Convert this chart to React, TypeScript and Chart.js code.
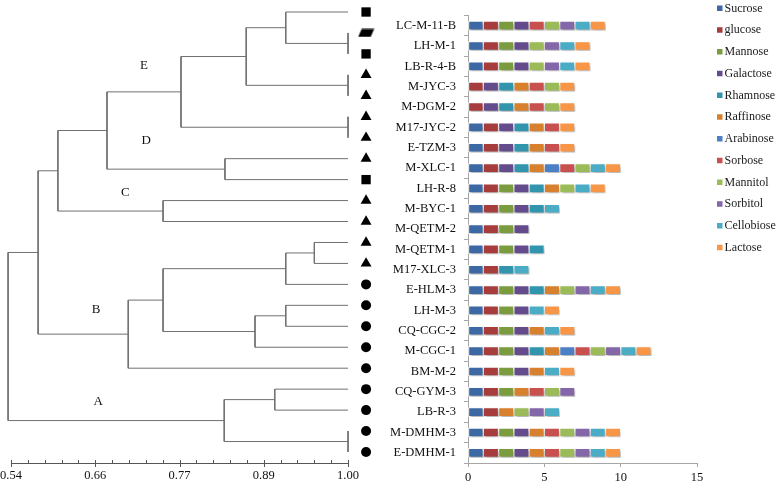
import React, { useEffect, useRef } from "react";
import { Chart, registerables } from "chart.js";

Chart.register(...registerables);

// ---------------- data ----------------
const strains = [
  "LC-M-11-B", "LH-M-1", "LB-R-4-B", "M-JYC-3", "M-DGM-2", "M17-JYC-2", "E-TZM-3",
  "M-XLC-1", "LH-R-8", "M-BYC-1", "M-QETM-2", "M-QETM-1", "M17-XLC-3", "E-HLM-3",
  "LH-M-3", "CQ-CGC-2", "M-CGC-1", "BM-M-2", "CQ-GYM-3", "LB-R-3", "M-DMHM-3", "E-DMHM-1",
];

const sugarNames = [
  "Sucrose", "glucose", "Mannose", "Galactose", "Rhamnose", "Raffinose",
  "Arabinose", "Sorbose", "Mannitol", "Sorbitol", "Cellobiose", "Lactose",
];

// 1 = strain utilises the sugar (one bar segment), 0 = not
const sucrose    = [1,1,1,0,0,1,1,1,1,1,1,1,1,1,1,1,1,1,1,1,1,1];
const glucose    = [1,1,1,1,1,1,1,1,1,1,1,1,1,1,1,1,1,1,1,1,1,1];
const mannose    = [1,1,1,0,0,0,0,0,1,1,1,1,0,1,1,1,1,1,1,0,1,1];
const galactose  = [1,1,1,1,1,1,1,1,1,1,1,1,0,1,1,1,1,1,0,0,1,1];
const rhamnose   = [0,0,0,1,1,1,1,1,1,1,0,1,1,1,0,0,1,0,0,0,0,0];
const raffinose  = [0,0,0,1,1,1,1,1,1,0,0,0,0,1,0,1,1,1,1,1,1,1];
const arabinose  = [0,0,0,0,0,0,0,1,0,0,0,0,0,0,0,0,1,0,0,0,0,0];
const sorbose    = [1,0,0,1,1,1,1,1,0,0,0,0,0,0,0,0,1,0,1,0,1,1];
const mannitol   = [1,1,1,1,1,0,0,1,1,0,0,0,0,1,0,0,1,0,1,1,1,1];
const sorbitol   = [1,1,1,0,0,0,0,0,0,0,0,0,0,1,0,0,1,0,1,1,1,1];
const cellobiose = [1,1,1,0,0,0,0,1,1,1,0,0,1,1,1,1,1,1,0,1,1,1];
const lactose    = [1,1,1,1,1,1,1,1,1,0,0,0,0,1,1,1,1,1,0,0,1,1];

const sugarValues = [
  sucrose, glucose, mannose, galactose, rhamnose, raffinose,
  arabinose, sorbose, mannitol, sorbitol, cellobiose, lactose,
];

const barTickStep = 5;
const barMax = 15;

// dendrogram (leaves are "L<i>", merge k creates node "N<k>")
const mergeLeft  = ["L1","L0","L3","N1","L5","N3","L7","N5","L9","N7","L11","N10","L14","N12","N11","N14","N9","L18","L20","N17","N16"];
const mergeRight = ["L2","N0","L4","N2","L6","N4","L8","N6","L10","N8","L12","L13","L15","L16","N13","L17","N15","L19","L21","N18","N19"];
const mergeSimilarity = [1.0,0.915,1.0,0.861,1.0,0.772,0.832,0.671,0.7475,0.604,0.954,0.915,0.915,0.873,0.7475,0.7,0.577,0.9,1.0,0.831,0.536];

const leafSymbols = [
  "square","parallelogram","square","triangle","triangle","triangle","triangle",
  "triangle","square","triangle","triangle","triangle","triangle",
  "circle","circle","circle","circle","circle","circle","circle","circle","circle",
];

const simMin = 0.54;
const simMax = 1.0;
const simMinorStep = 0.023;
const simTickLabels = ["0.54", "0.66", "0.77", "0.89", "1.00"];

const clusterLetters = ["E", "D", "C", "B", "A"];
const clusterLetterSim = [0.7215, 0.7245, 0.696, 0.656, 0.659];
const clusterLetterRow = [2.58, 6.16, 8.64, 14.2, 18.6];

// ---------------- styles ----------------
const sugarColors = [
  "#3C69A3", "#A63D3C", "#7B9B3F", "#644C8C", "#3196AD", "#D7812F",
  "#4C80C6", "#C8504E", "#9BBB59", "#8467A8", "#4BACC6", "#F79646",
];
const SERIF = "'Liberation Serif', 'Times New Roman', serif";
const SYMBOL_SIM = 1.0246;
const DENDRO_VIEW_MAX = 1.06;

function makeParallelogram(): HTMLCanvasElement {
  const c = document.createElement("canvas");
  c.width = 17;
  c.height = 9;
  const g = c.getContext("2d")!;
  g.fillStyle = "#000";
  g.beginPath();
  g.moveTo(4, 0.5);
  g.lineTo(16.5, 0.5);
  g.lineTo(13, 8.5);
  g.lineTo(0.5, 8.5);
  g.closePath();
  g.fill();
  return c;
}

function buildTreeLine() {
  const sim: Record<string, number> = {};
  const row: Record<string, number> = {};
  strains.forEach((_, i) => {
    sim["L" + i] = 1.0;
    row["L" + i] = i;
  });
  const pts: { x: number; y: number | null }[] = [];
  mergeLeft.forEach((l, k) => {
    const r = mergeRight[k];
    const s = mergeSimilarity[k];
    const yl = row[l];
    const yr = row[r];
    pts.push({ x: sim[l], y: yl }, { x: s, y: yl }, { x: s, y: yr }, { x: sim[r], y: yr }, { x: s, y: null });
    sim["N" + k] = s;
    row["N" + k] = (yl + yr) / 2;
  });
  return pts;
}

const dendroAxisPlugin = {
  id: "dendroAxis",
  afterDraw(chart: any) {
    const ctx = chart.ctx;
    const xs = chart.scales.x;
    const ys = chart.scales.y;
    const axisY = chart.chartArea.bottom + 11;
    ctx.save();
    ctx.strokeStyle = "#555";
    ctx.lineWidth = 1;
    ctx.beginPath();
    ctx.moveTo(xs.getPixelForValue(simMin), axisY + 0.5);
    ctx.lineTo(xs.getPixelForValue(simMax), axisY + 0.5);
    const n = Math.round((simMax - simMin) / simMinorStep);
    for (let i = 0; i <= n; i++) {
      const px = Math.round(xs.getPixelForValue(simMin + i * simMinorStep)) + 0.5;
      const major = i % 5 === 0;
      ctx.moveTo(px, axisY - 3);
      ctx.lineTo(px, axisY + (major ? 4 : 0.5));
    }
    ctx.stroke();
    ctx.fillStyle = "#111";
    ctx.font = `12.5px ${SERIF}`;
    ctx.textAlign = "center";
    ctx.textBaseline = "middle";
    simTickLabels.forEach((t, j) => {
      ctx.fillText(t, xs.getPixelForValue(simMin + j * 5 * simMinorStep), axisY + 13);
    });
    ctx.font = `13px ${SERIF}`;
    clusterLetters.forEach((t, j) => {
      ctx.fillText(t, xs.getPixelForValue(clusterLetterSim[j]), ys.getPixelForValue(clusterLetterRow[j]));
    });
    ctx.restore();
  },
};

const shadowPlugin = {
  id: "barShadow",
  beforeDatasetsDraw(chart: any) {
    const ctx = chart.ctx;
    ctx.save();
    ctx.shadowColor = "rgba(0,0,0,0.32)";
    ctx.shadowBlur = 3;
    ctx.shadowOffsetX = 1.5;
    ctx.shadowOffsetY = 2;
  },
  afterDatasetsDraw(chart: any) {
    chart.ctx.restore();
  },
};

const legendPlugin = {
  id: "sideLegend",
  afterDraw(chart: any) {
    const ctx = chart.ctx;
    const left = chart.chartArea.right + 20;
    ctx.save();
    ctx.font = `12px ${SERIF}`;
    ctx.textBaseline = "middle";
    ctx.textAlign = "left";
    chart.data.datasets.forEach((ds: any, i: number) => {
      const y = 8 + i * 21.75;
      ctx.fillStyle = ds.backgroundColor;
      ctx.fillRect(left, y - 2.5, 5.5, 5.5);
      ctx.fillStyle = "#1a1a1a";
      ctx.fillText(ds.label, left + 7.5, y + 0.5);
    });
    ctx.restore();
  },
};

export default function App() {
  const dendroRef = useRef<HTMLCanvasElement>(null);
  const barRef = useRef<HTMLCanvasElement>(null);

  useEffect(() => {
    const para = makeParallelogram();
    const styleOf = (s: string) =>
      s === "square" ? "rect" : s === "triangle" ? "triangle" : s === "circle" ? "circle" : para;
    const radiusOf = (s: string) => (s === "square" ? 6.6 : s === "triangle" ? 6.3 : 5);

    const dendro = new Chart(dendroRef.current!, {
      type: "line",
      data: {
        datasets: [
          {
            data: buildTreeLine() as any,
            borderColor: "#707070",
            borderWidth: 1,
            pointRadius: 0,
            spanGaps: false,
            tension: 0,
            clip: false as any,
          },
          {
            type: "scatter",
            data: strains.map((_, i) => ({ x: SYMBOL_SIM, y: i })),
            pointStyle: leafSymbols.map(styleOf) as any,
            pointRadius: leafSymbols.map(radiusOf),
            backgroundColor: "#000",
            borderColor: "#000",
            borderWidth: 0,
            showLine: false,
            clip: false as any,
          } as any,
        ],
      },
      options: {
        animation: false,
        responsive: false,
        events: [],
        layout: { padding: { left: 11, right: 8, top: 12, bottom: 39 } },
        plugins: { legend: { display: false }, tooltip: { enabled: false } },
        scales: {
          x: { type: "linear", min: simMin, max: DENDRO_VIEW_MAX, display: false },
          y: { type: "linear", min: 0, max: strains.length - 1, reverse: true, display: false },
        },
      },
      plugins: [dendroAxisPlugin],
    });

    const bar = new Chart(barRef.current!, {
      type: "bar",
      data: {
        labels: strains,
        datasets: sugarNames.map((name, i) => ({
          label: name,
          data: sugarValues[i].map((v) => (v ? v : null)),
          backgroundColor: sugarColors[i],
          borderColor: "#ffffff",
          borderWidth: 1,
          borderSkipped: false,
          barThickness: 9,
        })),
      },
      options: {
        indexAxis: "y",
        animation: false,
        responsive: false,
        events: [],
        layout: { padding: { left: 0, right: 81, top: 3, bottom: 0 } },
        plugins: { legend: { display: false }, tooltip: { enabled: false } },
        scales: {
          x: {
            stacked: true,
            min: 0,
            max: barMax,
            ticks: { stepSize: barTickStep, font: { family: SERIF, size: 12.5 }, color: "#111", padding: 3, maxRotation: 0 },
            grid: { drawOnChartArea: false, tickLength: 4, color: "#A6A6A6" },
            border: { color: "#A6A6A6" },
            afterFit: (s: any) => { s.height = 28; },
          },
          y: {
            stacked: true,
            ticks: { font: { family: SERIF, size: 12.5 }, color: "#111", padding: 8, autoSkip: false },
            grid: { drawOnChartArea: false, tickLength: 4, color: "#A6A6A6", offset: true },
            border: { color: "#A6A6A6" },
            afterFit: (s: any) => { s.width = 88; },
          },
        },
      },
      plugins: [shadowPlugin, legendPlugin],
    });

    return () => {
      dendro.destroy();
      bar.destroy();
    };
  }, []);

  return (
    <div style={{ position: "absolute", left: 0, top: 0, width: 778, height: 491, background: "#fff" }}>
      <canvas ref={dendroRef} width={400} height={491} style={{ position: "absolute", left: 0, top: 0 }} />
      <canvas ref={barRef} width={398} height={491} style={{ position: "absolute", left: 380, top: 0 }} />
    </div>
  );
}
